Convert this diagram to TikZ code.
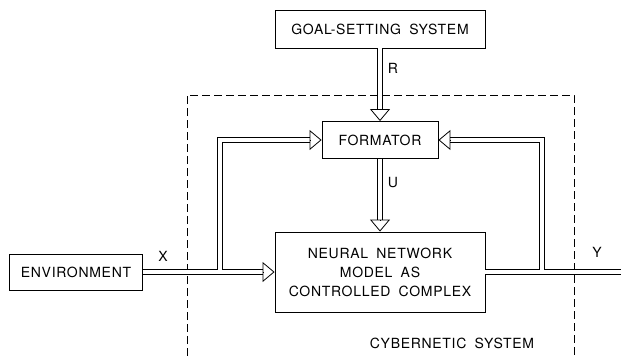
\documentclass[tikz,border=0pt]{standalone}
\usepackage{fontspec}
\setmainfont{TeX Gyre Heros}[WordSpace=1.8, LetterSpace=5]
\usetikzlibrary{arrows.meta}

\newcommand\pipes[1]{% double lines, drawn once per pass
  \draw[#1] (goal.south) -- ([yshift=12pt]form.north);
  \draw[#1] (form.south) -- ([yshift=12pt]nn.north);
  \draw[#1] (env.east) -- ([xshift=-12pt]nn.west);
  \draw[#1] (jl) |- ([xshift=-12pt]form.west);
  \draw[#1] (nn.east) -- (out);
  \draw[#1] (jr) |- ([xshift=12pt]form.east);
}

\begin{document}
\begin{tikzpicture}[x=1pt,y=-1pt,
    box/.style={draw, line width=0.9pt, align=center, inner sep=0pt, font=\fontsize{14}{19}\selectfont},
    tip/.style={line width=0.8pt, -{Triangle[open,length=12pt,width=20pt]}},
    lbl/.style={font=\fontsize{14}{19}\selectfont},
    outer/.style={draw=black, line width=5.6pt},
    inner/.style={draw=white, line width=3.8pt}]
  \useasboundingbox (0,0) rectangle (621,356);
  \draw[dash pattern=on 8pt off 4pt, line width=0.7pt] (187,356) -- (187,95) -- (574,95) -- (574,356); % Cybernetic system
  \node[box, minimum width=210pt, minimum height=38pt] (goal) at (380,29) {GOAL-SETTING SYSTEM};
  \node[box, minimum width=116pt, minimum height=37pt] (form) at (380,140) {FORMATOR};
  \node[box, minimum width=210pt, minimum height=80pt] (nn) at (380,272) {NEURAL NETWORK\\MODEL AS\\CONTROLLED COMPLEX};
  \node[box, minimum width=133pt, minimum height=36pt] (env) at (76,272) {ENVIRONMENT};
  \coordinate (jl) at (220,272); % Left branch
  \coordinate (jr) at (542,272); % Right branch
  \coordinate (out) at (621,272); % Output end
  \pipes{outer}
  \pipes{inner}
  % Arrow heads
  \draw[tip] ([yshift=12pt]form.north) -- (form.north);
  \draw[tip] ([yshift=12pt]nn.north) -- (nn.north);
  \draw[tip] ([xshift=-12pt]nn.west) -- (nn.west);
  \draw[tip] ([xshift=-12pt]form.west) -- (form.west);
  \draw[tip] ([xshift=12pt]form.east) -- (form.east);
  \node[lbl] (r) at (393,68) {R};
  \node[lbl] (u) at (393,183) {U};
  \node[lbl] (x) at (163,256) {X};
  \node[lbl] (y) at (597,252) {Y};
  \node[lbl] (cyb) at (452,343) {CYBERNETIC SYSTEM};
\end{tikzpicture}
\end{document}
